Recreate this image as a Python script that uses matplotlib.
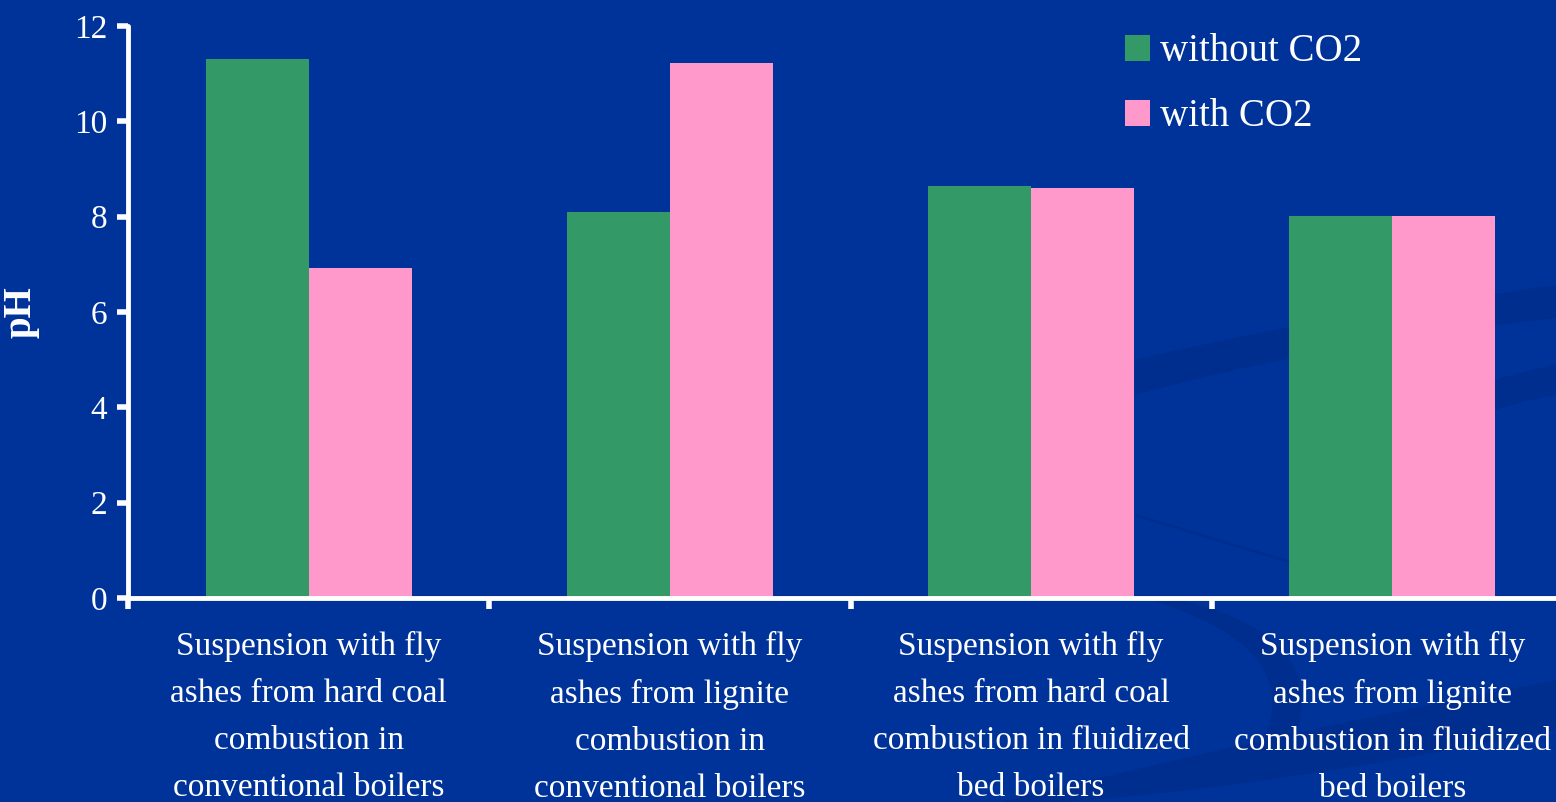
import matplotlib.pyplot as plt
from matplotlib.patches import PathPatch
from matplotlib.path import Path
import numpy as np

plt.rcParams['font.family'] = ['Liberation Serif', 'DejaVu Serif']

categories = [
    "Suspension with fly\nashes from hard coal\ncombustion in\nconventional boilers",
    "Suspension with fly\nashes from lignite\ncombustion in\nconventional boilers",
    "Suspension with fly\nashes from hard coal\ncombustion in fluidized\nbed boilers",
    "Suspension with fly\nashes from lignite\ncombustion in fluidized\nbed boilers",
]
ph_without_co2 = [11.3, 8.1, 8.65, 8.02]
ph_with_co2 = [6.92, 11.22, 8.6, 8.02]

BG = "#003399"
GREEN = "#339966"
PINK = "#ff99cc"
SWOOSH = "#002e8e"
W, H = 1556, 802

fig = plt.figure(figsize=(W / 100, H / 100), dpi=100, facecolor=BG)

# background layer in pixel coordinates (y down) for the faint swooshes
bg = fig.add_axes([0, 0, 1, 1], zorder=-1)
bg.set_xlim(0, W)
bg.set_ylim(H, 0)
bg.axis("off")

swooshes = [
    [(1135, 360), (1300, 320), (1450, 300), (1556, 285),
     (1556, 318), (1450, 330), (1300, 350), (1135, 395)],
    [(1495, 380), (1520, 372), (1540, 368), (1556, 364),
     (1556, 395), (1540, 398), (1520, 402), (1495, 410)],
    [(1000, 802), (1250, 740), (1450, 700), (1556, 680),
     (1556, 730), (1450, 750), (1250, 790), (1060, 802)],
    [(1150, 600), (1280, 640), (1300, 700), (1240, 780),
     (1270, 780), (1330, 700), (1310, 630), (1180, 600)],
]
codes = [Path.MOVETO, Path.CURVE4, Path.CURVE4, Path.CURVE4,
         Path.LINETO, Path.CURVE4, Path.CURVE4, Path.CURVE4, Path.CLOSEPOLY]
for pts in swooshes:
    bg.add_patch(PathPatch(Path(pts + [pts[0]], codes),
                           facecolor=SWOOSH, edgecolor="none"))
bg.add_patch(PathPatch(Path([(1135, 515), (1200, 535), (1250, 550), (1290, 562)],
                            [Path.MOVETO] + [Path.CURVE4] * 3),
                       facecolor="none", edgecolor=SWOOSH, lw=2))

ax = fig.add_axes([128 / W, 204 / H, 1445 / W, 572 / H])
ax.set_facecolor("none")

x = np.arange(len(categories))
bw = 0.285
ax.bar(x - bw / 2, ph_without_co2, bw, color=GREEN, label="without CO2", zorder=2)
ax.bar(x + bw / 2, ph_with_co2, bw, color=PINK, label="with CO2", zorder=2)

ax.set_xlim(-0.5, len(categories) - 0.5)
ax.set_ylim(0, 12)
ax.set_yticks(range(0, 13, 2))
ax.tick_params(axis="y", colors="white", labelcolor="white", labelsize=24,
               length=8, width=4, pad=7)

ax.set_xticks(x)
ax.set_xticklabels(categories, color="white", fontsize=24, linespacing=1.7)
ax.set_xticks(np.arange(-0.5, len(categories) - 0.5), minor=True)
ax.tick_params(axis="x", which="major", length=0, pad=24)
ax.tick_params(axis="x", which="minor", colors="white", length=8, width=4)

for side in ("top", "right"):
    ax.spines[side].set_visible(False)
for side in ("left", "bottom"):
    ax.spines[side].set_color("white")
    ax.spines[side].set_linewidth(3.5)
    ax.spines[side].set_capstyle("round")

ax.set_ylabel("pH", color="white", fontsize=28, fontweight="bold")
ax.yaxis.set_label_coords((40 - 128) / 1445, 0.5)

ax.legend(loc="upper left", bbox_to_anchor=((1125 - 128) / 1445, 0.987),
          frameon=False, fontsize=28, labelcolor="white",
          handlelength=0.64, handleheight=0.64, handletextpad=0.26,
          labelspacing=0.72, borderaxespad=0, borderpad=0)

fig.savefig("out.png", dpi=100, facecolor=BG)
